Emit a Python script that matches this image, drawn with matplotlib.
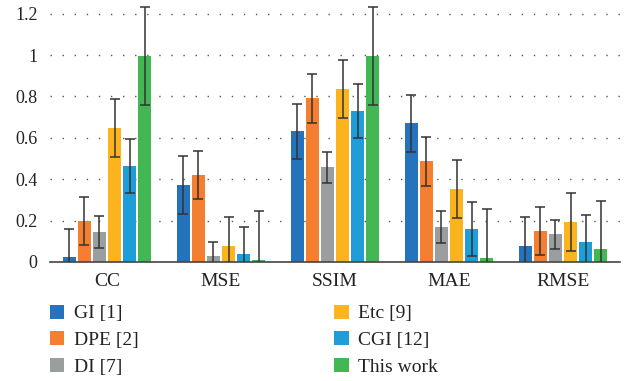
import numpy as np
import matplotlib
matplotlib.use('Agg')
import matplotlib.pyplot as plt
from matplotlib.patches import Patch

plt.rcParams['font.family'] = ['Liberation Serif', 'DejaVu Serif']

metrics = ['CC', 'MSE', 'SSIM', 'MAE', 'RMSE']
methods = ['GI [1]', 'DPE [2]', 'DI [7]', 'Etc [9]', 'CGI [12]', 'This work']
colors = ['#2573bc', '#f47f30', '#9b9e9f', '#fbb41d', '#1f9dd9', '#43b753']

# values per method, one entry per metric
gi = [0.023, 0.370, 0.631, 0.670, 0.076]
dpe = [0.197, 0.419, 0.791, 0.486, 0.148]
di = [0.143, 0.028, 0.457, 0.168, 0.133]
etc = [0.646, 0.076, 0.834, 0.351, 0.192]
cgi = [0.462, 0.037, 0.728, 0.158, 0.095]
this_work = [0.994, 0.008, 0.994, 0.018, 0.061]

gi_err = [0.135, 0.140, 0.134, 0.137, 0.140]
dpe_err = [0.117, 0.117, 0.119, 0.118, 0.116]
di_err = [0.077, 0.071, 0.075, 0.076, 0.072]
etc_err = [0.140, 0.141, 0.140, 0.140, 0.140]
cgi_err = [0.130, 0.131, 0.130, 0.130, 0.132]
this_err = [0.237, 0.238, 0.237, 0.238, 0.236]

values = [gi, dpe, di, etc, cgi, this_work]
errors = [gi_err, dpe_err, di_err, etc_err, cgi_err, this_err]

fig = plt.figure(figsize=(6.28, 3.81), dpi=100)
ax = fig.add_axes([50 / 628, 1 - 262 / 381, 570 / 628, 260.8 / 381])

x = np.arange(len(metrics))
step = 0.1325
width = 0.11
for i, (vals, errs, col) in enumerate(zip(values, errors, colors)):
    pos = x + (i - 2.5) * step
    ax.bar(pos, vals, width=width, color=col, zorder=2)
    ax.errorbar(pos, vals, yerr=errs, fmt='none', ecolor='#333333',
                elinewidth=1.1, capsize=3.6, capthick=1.1, zorder=3)

ax.set_xlim(-0.5, 4.5)
ax.set_ylim(0, 1.26)
ax.set_yticks([0, 0.2, 0.4, 0.6, 0.8, 1.0, 1.2])
ax.set_yticklabels(['0', '0.2', '0.4', '0.6', '0.8', '1', '1.2'])
ax.set_xticks(x)
ax.set_xticklabels(metrics)
ax.tick_params(axis='y', length=0, pad=9, labelsize=13, labelcolor='#222222')
ax.tick_params(axis='x', length=0, pad=8, labelsize=14, labelcolor='#222222')

ax.yaxis.grid(True, color='#555555', linewidth=1.0, linestyle=(0, (1, 7.7)), zorder=0)
ax.set_axisbelow(True)
for side in ['left', 'right', 'top']:
    ax.spines[side].set_visible(False)
ax.spines['bottom'].set_color('#444444')
ax.spines['bottom'].set_linewidth(1.2)

handles = [Patch(facecolor=c, edgecolor='none') for c in colors]
fig.legend(handles, methods,
           ncol=2, loc='upper left', bbox_to_anchor=(32 / 628, 1 - 287 / 381),
           frameon=False, fontsize=14, handlelength=0.75, handleheight=0.75,
           handletextpad=0.5, labelspacing=0.45, columnspacing=10.05,
           labelcolor='#222222')

fig.savefig('out.png', dpi=100)
